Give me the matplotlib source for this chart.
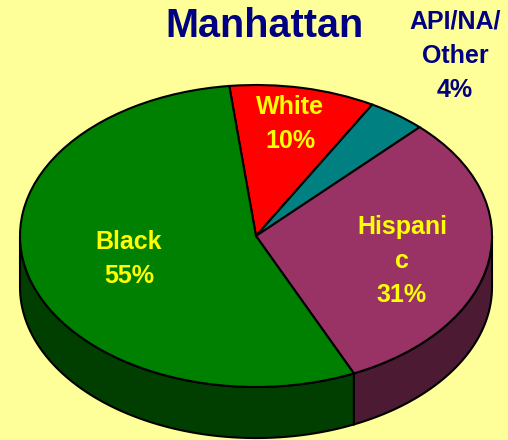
import numpy as np
import matplotlib
matplotlib.use("Agg")
import matplotlib.pyplot as plt
from matplotlib.patches import Polygon

# ---- data ----
title = "Manhattan"
categories = ["White", "API/NA/\nOther", "Hispani\nc", "Black"]
values = [10, 4, 31, 55]
top_colors = ["#ff0000", "#008080", "#993366", "#008000"]
side_colors = ["#7f0000", "#004040", "#4c1a33", "#003f00"]

START = 96.5
DEPTH = 0.338
BG = "#ffff99"
NAVY = "#000080"
YEL = "#ffff00"

W, H = 508, 440
fig = plt.figure(figsize=(W / 100, H / 100), dpi=100, facecolor=BG)
ax = fig.add_axes([0, 0, 1, 1])
ax.set_facecolor(BG)

# pixel mapping: center (256,236), a=236, b=151
cx, cy, a, b = 256, 236, 236, 151

# ---- side walls (front half of the cylinder) ----
total = float(sum(values))
cum = np.concatenate([[0], np.cumsum(values)]) / total * 360.0
for i, v in enumerate(values):
    t1 = START - cum[i]      # ccw end
    t0 = START - cum[i + 1]  # ccw start
    for shift in (-720, -360, 0, 360, 720):
        lo = max(t0 + shift, 180.0)
        hi = min(t1 + shift, 360.0)
        if hi > lo:
            tt = np.radians(np.linspace(lo, hi, 120))
            top = np.column_stack([np.cos(tt), np.sin(tt)])
            bot = np.column_stack([np.cos(tt), np.sin(tt) - DEPTH])[::-1]
            ax.add_patch(Polygon(np.vstack([top, bot]), closed=True,
                                 facecolor=side_colors[i], edgecolor="black",
                                 linewidth=1.5, zorder=1))

# ---- top face ----
wedges, _ = ax.pie(values, colors=top_colors, startangle=START,
                   counterclock=False, radius=1, center=(0, 0),
                   wedgeprops=dict(edgecolor="black", linewidth=1.5))
for w in wedges:
    w.set_zorder(2)

ax.set_aspect("auto")
ax.set_xlim(-cx / a, (W - cx) / a)
ax.set_ylim(-(H - cy) / b, cy / b)
ax.axis("off")

def px(x, y):
    return (x - cx) / a, (cy - y) / b

fnt = dict(family=["Liberation Sans", "DejaVu Sans"], weight="bold")

ax.text(*px(265, 26), title, ha="center", va="center", fontsize=28.5,
        color=NAVY, zorder=5, **fnt)

label_pos = [(290, 124), (455, 56), (402, 261), (129, 259)]
label_cols = [YEL, NAVY, YEL, YEL]
for cat, v, (lx, ly), c in zip(categories, values, label_pos, label_cols):
    ax.text(*px(lx, ly), f"{cat}\n{v}%", ha="center", va="center",
            fontsize=18, color=c, linespacing=1.55, zorder=5, **fnt)

fig.savefig("out.png", dpi=100, facecolor=BG)
